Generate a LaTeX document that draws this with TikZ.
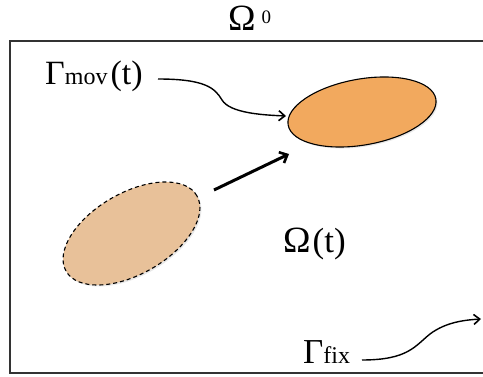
\documentclass[tikz,border=0pt]{standalone}
\usepackage{fontspec}
\setmainfont{Liberation Serif}
\usetikzlibrary{arrows.meta,shapes.geometric,shadows}
\definecolor{movfill}{HTML}{F2A95E}
\definecolor{oldfill}{HTML}{E8C199}
\definecolor{framecol}{HTML}{333333}
\tikzset{
  lbl/.style={inner sep=0pt, anchor=base west},
  blob/.style={ellipse, draw=black, inner sep=0pt, line width=1.1pt,
    drop shadow={opacity=0.18, shadow xshift=1.5pt, shadow yshift=-1.5pt}},
  curvy/.style={line width=1.4pt, -{Straight Barb[length=6pt,width=10pt,line width=1.6pt]}},
  motion/.style={line width=3pt, -{Straight Barb[length=6.5pt,width=12pt,line width=2.6pt]}}
}
\begin{document}
\begin{tikzpicture}[x=1pt,y=-1pt]
\useasboundingbox (0,0) rectangle (483,377);
\clip (0,0) rectangle (483,377);
\draw[framecol, line width=1.6pt] (490,41) -- (10,41) -- (10,373) -- (490,373);
% labels
\node[lbl] (om0) at (228,31) {\fontsize{37}{37}\selectfont Ω\hspace{6pt}\raisebox{7pt}{\fontsize{19}{19}\selectfont 0}};
\node[lbl] (gmov) at (45,85) {\fontsize{34}{34}\selectfont Γ{\fontsize{24}{24}\selectfont mov}\hspace{3pt}(t)};
\node[lbl] (omt) at (283,253) {\fontsize{37}{37}\selectfont Ω\hspace{2pt}{\fontsize{35}{35}\selectfont (t)}};
\node[lbl] (gfix) at (303,364) {\fontsize{35}{35}\selectfont Γ{\fontsize{24}{24}\selectfont fix}};
% domains
\node[blob, dashed, dash pattern=on 4pt off 3pt, fill=oldfill, minimum width=151pt, minimum height=81pt, rotate=30] (e0) at (131.5,233.5) {};
\node[blob, fill=movfill, minimum width=150pt, minimum height=66pt, rotate=10] (e1) at (362,112) {};
% connectors
\coordinate (m1) at (214,190);
\coordinate (m2) at (289,154);
\draw[motion] (m1) -- (m2);
\coordinate (g1) at (158,79);
\coordinate (g2) at (286,116);
\draw[curvy] (g1) .. controls (205,79) and (215,88) .. (222,100) .. controls (230,113) and (262,115) .. (g2);
\coordinate (f1) at (362,360);
\coordinate (f2) at (481,319);
\draw[curvy] (f1) .. controls (408,360) and (415,346) .. (430,334) .. controls (446,322) and (465,320) .. (f2);
\end{tikzpicture}
\end{document}
